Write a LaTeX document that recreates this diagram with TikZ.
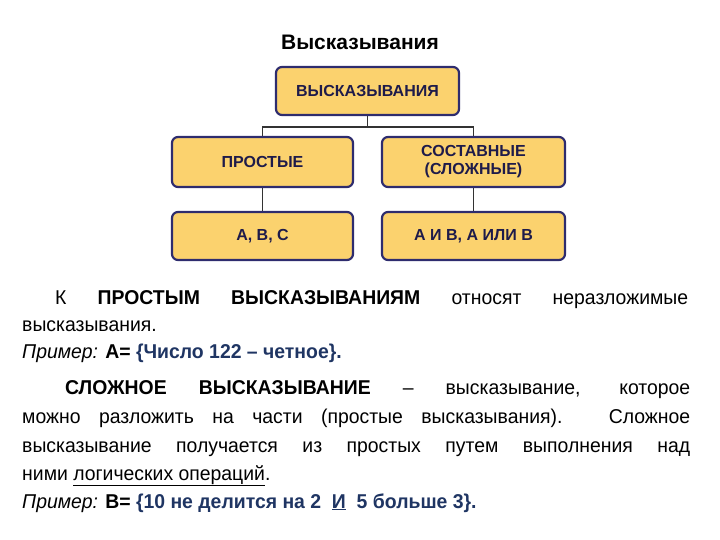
\documentclass[tikz,border=0pt]{standalone}
\usepackage{fontspec}
\setmainfont{Liberation Sans}
\newfontfamily\narrow[FakeStretch=0.97]{Liberation Sans}
\begin{document}
\begin{tikzpicture}[x=1pt,y=-1pt,
  bx/.style={draw=boxline,line width=2.2pt,fill=boxfill,rounded corners=6pt,font=\bfseries\fontsize{16}{18}\selectfont,text=boxtext,align=center},
  ln/.style={line width=1.6pt,draw=black!80},
  tx/.style={anchor=base west,inner sep=0pt,font=\narrow\fontsize{20}{23}\selectfont}]
\definecolor{boxfill}{HTML}{FBD26E}
\definecolor{boxline}{HTML}{2E2C6E}
\definecolor{boxtext}{HTML}{1E1B4A}
\definecolor{bl}{HTML}{1F3563}
\useasboundingbox (0,0) rectangle (720,540);
\node[font=\bfseries\fontsize{21}{24}\selectfont] (title) at (360,42) {Высказывания};
\node[bx,minimum width=183pt,minimum height=48pt] (top) at (367.5,91) {ВЫСКАЗЫВАНИЯ};
\node[bx,minimum width=181pt,minimum height=50pt] (pl) at (262.5,162) {ПРОСТЫЕ};
\node[bx,minimum width=183pt,minimum height=50pt] (pr) at (473.5,162) {СОСТАВНЫЕ\\(СЛОЖНЫЕ)};
\node[bx,minimum width=181pt,minimum height=48pt] (bl) at (262.5,236) {А, В, С};
\node[bx,minimum width=183pt,minimum height=48pt] (br) at (473.5,236) {А И В, А ИЛИ В};
\coordinate (j) at (367.5,127);
\draw[ln] (top.south) -- (j);
\draw[ln] (pl.north) |- (j) -| (pr.north);
\draw[ln] (pl.south) -- (bl.north);
\draw[ln] (pr.south) -- (br.north);
\node[tx] (t1) at (55,304) {\makebox[633pt][s]{К \textbf{ПРОСТЫМ ВЫСКАЗЫВАНИЯМ} относят неразложимые}};
\node[tx] (t2) at (22,331) {высказывания.};
\node[tx] (t3) at (22,358) {\textit{Пример:} \textbf{А= \color{bl}\{Число 122 – четное\}.}};
\node[tx] (t4) at (65,394) {\makebox[625pt][s]{\textbf{СЛОЖНОЕ ВЫСКАЗЫВАНИЕ} – высказывание, которое}};
\node[tx] (t5) at (22,423) {\makebox[668pt][s]{можно разложить на части (простые высказывания). Сложное}};
\node[tx] (t6) at (22,452) {\makebox[668pt][s]{высказывание получается из простых путем выполнения над}};
\node[tx] (t7) at (22,480) {ними \underline{логических операций}.};
\node[tx] (t8) at (22,508) {\textit{Пример:} \textbf{В= \color{bl}\{10 не делится на 2 \ \underline{И} \ 5 больше 3\}.}};
\end{tikzpicture}
\end{document}
